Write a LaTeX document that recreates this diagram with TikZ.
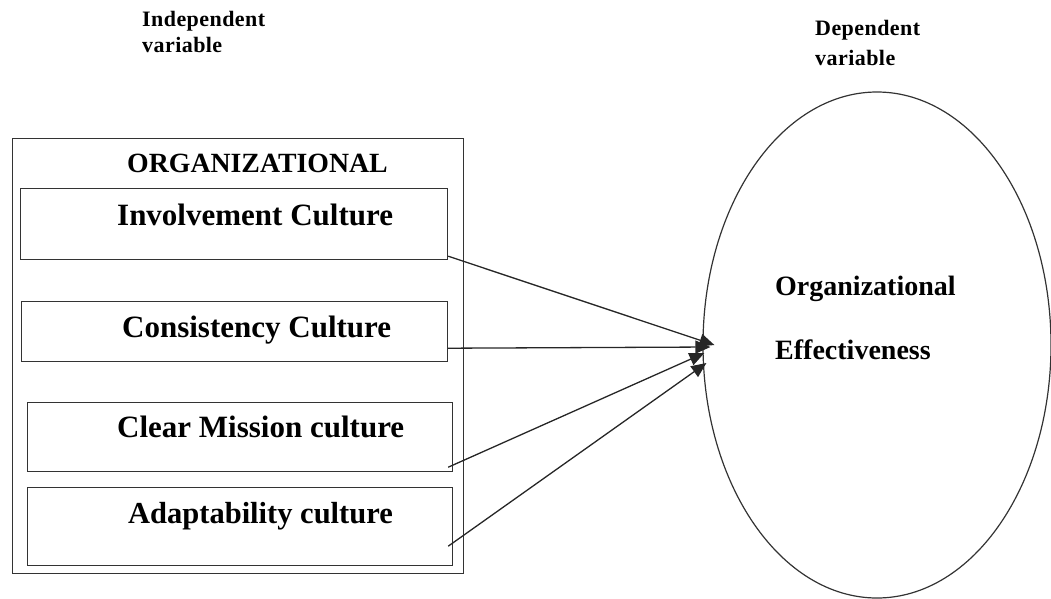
\documentclass[tikz,border=0pt]{standalone}
\usepackage{fontspec}
\setmainfont{Liberation Serif}
\usetikzlibrary{
  calc,positioning,shapes.geometric,
  arrows.meta
}

\tikzset{
  frame/.style={draw=black!80,line width=1.2pt,rectangle,anchor=north west,inner sep=0pt},
  culturebox/.style={frame},
  lbl/.style={anchor=base west,inner sep=0pt,font=\bfseries\fontsize{31}{31}\selectfont},
  varlbl/.style={anchor=base west,inner sep=0pt,font=\bfseries\fontsize{22}{22}\selectfont\addfontfeatures{LetterSpace=2}},
  link/.style={draw=black!85,line width=1.3pt,-{Triangle[length=15pt,width=13pt]}}
}

\begin{document}
\begin{tikzpicture}[x=1pt,y=-1pt]
\useasboundingbox (0,0) rectangle (1051,598);

% variable headings
\node[varlbl] (ind1) at (142,26) {Independent};
\node[varlbl] (ind2) at (142,52) {variable};
\node[varlbl] (dep1) at (815,35) {Dependent};
\node[varlbl] (dep2) at (815,65) {variable};

% culture boxes
\node[frame,minimum width=451pt,minimum height=435pt] (orgbox) at (12,138) {};
\node[lbl,font=\bfseries\fontsize{27.8}{27.8}\selectfont] (orgtitle) at (127,172) {ORGANIZATIONAL};
\node[culturebox,minimum width=427pt,minimum height=71pt] (involve) at (20,188) {};
\node[culturebox,minimum width=426pt,minimum height=60pt] (consist) at (21,301) {};
\node[culturebox,minimum width=425pt,minimum height=69pt] (mission) at (27,402) {};
\node[culturebox,minimum width=425pt,minimum height=78pt] (adapt) at (27,487) {};
\node[lbl] (involvetxt) at (117,225) {Involvement Culture};
\node[lbl] (consisttxt) at (122,337) {Consistency Culture};
\node[lbl] (missiontxt) at (117,437) {Clear Mission culture};
\node[lbl,font=\bfseries\fontsize{30.5}{30.5}\selectfont] (adapttxt) at (128,523) {Adaptability culture};

% dependent variable
\node[draw=black!80,line width=1.2pt,ellipse,minimum width=348pt,minimum height=506pt,inner sep=0pt] (effect) at (877,345) {};
\node[lbl,font=\bfseries\fontsize{28}{28}\selectfont] (efftxt1) at (775,295) {Organizational};
\node[lbl,font=\bfseries\fontsize{28}{28}\selectfont] (efftxt2) at (775,359) {Effectiveness};

% arrow ends
\coordinate (s1) at ($(involve.south east)+(0,-4)$);
\coordinate (s2) at ($(consist.south east)+(0,-14)$);
\coordinate (s3) at ($(mission.south east)+(-5,-5)$);
\coordinate (s4) at ($(adapt.south east)+(-5,-20)$);
\coordinate (e1) at ($(effect.west)+(12,0)$);
\coordinate (e2) at ($(effect.west)+(8,2)$);
\coordinate (e3) at ($(effect.west)+(2,8)$);
\coordinate (e4) at ($(effect.west)+(4,18)$);

\draw[link] (s1) -- (e1);
\draw[link] (s2) -- (e2);
\draw[link] (s3) -- (e3);
\draw[link] (s4) -- (e4);
\end{tikzpicture}
\end{document}
